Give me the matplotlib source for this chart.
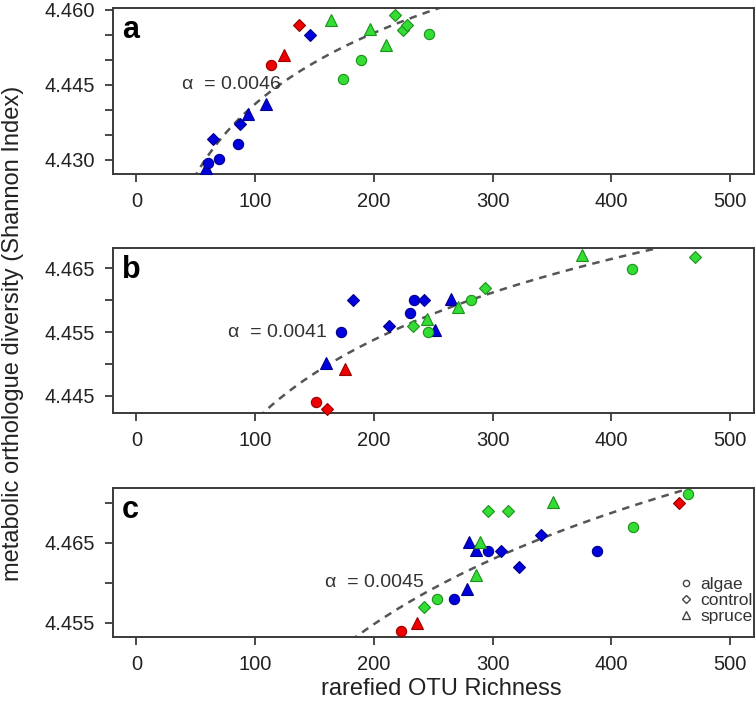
import numpy as np
import matplotlib
matplotlib.use("Agg")
import matplotlib.pyplot as plt
from matplotlib.lines import Line2D

plt.rcParams['font.family'] = ['Liberation Sans', 'DejaVu Sans']

# ---------------- data ----------------
# treatment groups -> colours ; substrate -> marker
group_colors = {"blue": ("#0000DD", "#00008B"),
                "red": ("#EE0000", "#990000"),
                "green": ("#33DD33", "#1E8F1E")}
shape_markers = {"algae": "o", "control": "D", "spruce": "^"}

# panel a
a_x = [58.7, 60.6, 69.3, 64.8, 85.2, 86.9, 93.6, 109.5, 146.1,
       113.2, 124.3, 136.6,
       163.5, 173.8, 189.4, 196.4, 210.4, 217.7, 224.1, 227.7, 246.2]
a_y = [4.4283, 4.4293, 4.4302, 4.4342, 4.4332, 4.4371, 4.4392, 4.4411, 4.4550,
       4.4490, 4.4510, 4.4569,
       4.4580, 4.4461, 4.4500, 4.4561, 4.4530, 4.4589, 4.4560, 4.4569, 4.4551]
a_col = ["blue"] * 9 + ["red"] * 3 + ["green"] * 9
a_shape = ["spruce", "algae", "algae", "control", "algae", "control", "spruce", "spruce", "control",
           "algae", "spruce", "control",
           "spruce", "algae", "algae", "spruce", "spruce", "control", "control", "control", "algae"]

# panel b
b_x = [151.0, 160.3, 175.9,
       159.7, 172.4, 182.1, 212.4, 230.3, 233.4, 242.1, 264.8, 251.7,
       232.8, 244.8, 245.9, 270.7, 281.7, 293.1, 375.2, 417.2, 470.0]
b_y = [4.4440, 4.4430, 4.4492,
       4.4501, 4.4550, 4.4600, 4.4560, 4.4580, 4.4600, 4.4600, 4.4601, 4.4553,
       4.4560, 4.4570, 4.4550, 4.4590, 4.4600, 4.4619, 4.4671, 4.4649, 4.4668]
b_col = ["red"] * 3 + ["blue"] * 9 + ["green"] * 9
b_shape = ["algae", "control", "spruce",
           "spruce", "algae", "control", "control", "algae", "algae", "control", "spruce", "spruce",
           "control", "spruce", "algae", "spruce", "algae", "control", "spruce", "algae", "control"]

# panel c
c_x = [222.4, 236.5, 456.9,
       267.6, 278.6, 322.4, 280.3, 285.5, 295.8, 306.9, 340.7, 388.2,
       242.4, 252.7, 286.2, 288.9, 295.8, 313.1, 350.7, 417.9, 464.5]
c_y = [4.4540, 4.4550, 4.4700,
       4.4580, 4.4592, 4.4620, 4.4651, 4.4641, 4.4640, 4.4640, 4.4660, 4.4640,
       4.4569, 4.4580, 4.4610, 4.4651, 4.4690, 4.4690, 4.4701, 4.4670, 4.4711]
c_col = ["red"] * 3 + ["blue"] * 9 + ["green"] * 9
c_shape = ["algae", "spruce", "control",
           "algae", "spruce", "control", "spruce", "spruce", "algae", "control", "control", "algae",
           "control", "algae", "spruce", "spruce", "control", "control", "spruce", "algae", "algae"]

alphas = [0.0046, 0.0041, 0.0045]
alpha_labels = ["0.0046", "0.0041", "0.0045"]
panel_letters = ["a", "b", "c"]
x_ticks = [0, 100, 200, 300, 400, 500]
y_ticks = [[4.430, 4.435, 4.440, 4.445, 4.450, 4.455, 4.460],
           [4.445, 4.450, 4.455, 4.460, 4.465],
           [4.455, 4.460, 4.465, 4.470]]
y_ticklabels = [["4.430", "", "", "4.445", "", "", "4.460"],
                ["4.445", "", "4.455", "", "4.465"],
                ["4.455", "", "4.465", ""]]
y_lims = [(4.4272, 4.4603), (4.44225, 4.46813), (4.45321, 4.47184)]
alpha_text_pos = [(80, 4.445), (119, 4.455), (200, 4.460)]
legend_labels = ["algae", "control", "spruce"]

panels = [(a_x, a_y, a_col, a_shape), (b_x, b_y, b_col, b_shape), (c_x, c_y, c_col, c_shape)]

# ---------------- figure ----------------
W, H = 756, 704
fig = plt.figure(figsize=(W / 100, H / 100), dpi=100)
left, right = 112.7, 754
boxes = [(8.3, 174), (248.3, 413.3), (488, 637)]

axline = "#3a3a3a"
txtcol = "#222222"

for i, ((px, py, pc, ps), (top, bot)) in enumerate(zip(panels, boxes)):
    ax = fig.add_axes([left / W, (H - bot) / H, (right - left) / W, (bot - top) / H])
    ax.set_xlim(-20, 520)
    ax.set_ylim(*y_lims[i])
    # fitted power-law curve y = c * x^alpha
    lx = np.log(np.array(px))
    ly = np.log(np.array(py))
    lnc = np.mean(ly - alphas[i] * lx)
    xs = np.linspace(1, 520, 400)
    ax.plot(xs, np.exp(lnc) * xs ** alphas[i], ls=(0, (3, 2.5)), color="#555555", lw=1.8, zorder=1)
    for x, y, c, s in zip(px, py, pc, ps):
        fc, ec = group_colors[c]
        m = shape_markers[s]
        ax.plot([x], [y], marker=m, ls="none", ms=(8.2 if m == "^" else (6.6 if m == "D" else 7.4)),
                mfc=fc, mec=ec, mew=0.8, zorder=3, clip_on=False)
    ax.set_xticks(x_ticks)
    ax.set_xticklabels([str(t) for t in x_ticks])
    ax.set_yticks(y_ticks[i])
    ax.set_yticklabels(y_ticklabels[i])
    ax.tick_params(axis="both", direction="out", length=6, width=1.3, color=axline,
                   labelsize=14.5, labelcolor=txtcol, pad=7)
    for sp in ax.spines.values():
        sp.set_color(axline)
        sp.set_linewidth(1.4)
    ax.annotate(panel_letters[i], xy=(0, 1), xycoords="axes fraction", xytext=(9, -30),
                textcoords="offset pixels", fontsize=22, fontweight="bold", ha="left",
                va="baseline", color="black")
    tx, ty = alpha_text_pos[i]
    ax.text(tx, ty, "α  = " + alpha_labels[i], fontsize=14, ha="center", va="center",
            color="#333333", zorder=2)
    if i == 2:
        handles = [Line2D([], [], marker=shape_markers[l], ls="none", mfc="none", mec="#444444",
                          mew=1.0, ms=(5.5 if l == "spruce" else 4.5)) for l in legend_labels]
        ax.legend(handles, legend_labels, loc="lower right", bbox_to_anchor=(0.998, 0.09),
                  frameon=False, fontsize=12.5,
                  handlelength=0.6, handletextpad=0.5, labelspacing=0.03, borderpad=0.0,
                  borderaxespad=0.0, labelcolor="#333333")

fig.text(441 / W, (H - 689) / H, "rarefied OTU Richness", fontsize=17, ha="center",
         va="center", color=txtcol)
fig.text(13 / W, (H - 333) / H, "metabolic orthologue diversity (Shannon Index)", fontsize=17,
         rotation=90, ha="center", va="center", color=txtcol)

fig.savefig("out.png", dpi=100)
